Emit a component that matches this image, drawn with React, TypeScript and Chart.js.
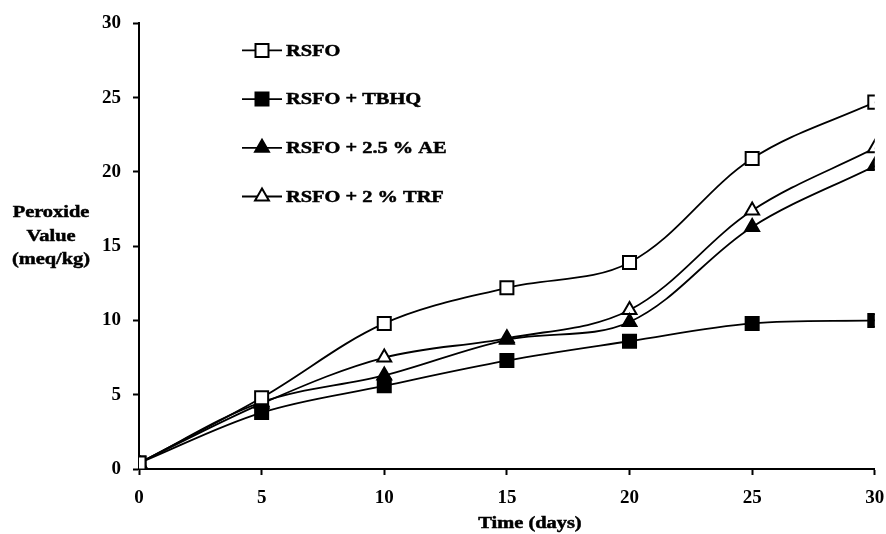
import React, { useEffect, useRef } from "react";
import { Chart, registerables } from "chart.js";

Chart.register(...registerables);

const days = [0, 5, 10, 15, 20, 25, 30];
const rsfo = [0.4, 4.8, 9.8, 12.2, 13.9, 20.9, 24.7];
const tbhq = [0.4, 3.8, 5.6, 7.3, 8.6, 9.8, 10.0];
const ae = [0.4, 4.5, 6.3, 8.7, 9.9, 16.3, 20.4];
const trf = [0.4, 4.4, 7.5, 8.8, 10.7, 17.4, 21.6];
const seriesLabels = ["RSFO", "RSFO + TBHQ", "RSFO + 2.5 % AE", "RSFO + 2 % TRF"];
const yTitleLines = ["Peroxide", "Value", "(meq/kg)"];
const xTitle = "Time (days)";

const FONT = "'Liberation Serif', 'Times New Roman', serif";
const STRETCH = 1.2;

type Marker = { shape: "rect" | "triangle"; fill: string };
const markers: Marker[] = [
  { shape: "rect", fill: "#fff" },
  { shape: "rect", fill: "#000" },
  { shape: "triangle", fill: "#000" },
  { shape: "triangle", fill: "#fff" },
];

function drawMarker(ctx: CanvasRenderingContext2D, m: Marker, x: number, y: number) {
  ctx.save();
  ctx.beginPath();
  if (m.shape === "rect") {
    const s = 6.5;
    ctx.rect(x - s, y - s, 2 * s, 2 * s);
  } else {
    const r = 8;
    ctx.moveTo(x, y - r);
    ctx.lineTo(x + r * 0.866, y + r * 0.5);
    ctx.lineTo(x - r * 0.866, y + r * 0.5);
    ctx.closePath();
  }
  ctx.fillStyle = m.fill;
  ctx.fill();
  ctx.lineWidth = 2;
  ctx.strokeStyle = "#000";
  ctx.stroke();
  ctx.restore();
}

function stretchedText(ctx: CanvasRenderingContext2D, text: string, x: number, y: number, align: "left" | "center") {
  ctx.save();
  ctx.translate(x, y);
  ctx.scale(STRETCH, 1);
  ctx.textAlign = align;
  ctx.textBaseline = "middle";
  ctx.lineWidth = 0.5;
  ctx.strokeStyle = "#000";
  ctx.strokeText(text, 0, 0);
  ctx.fillText(text, 0, 0);
  ctx.restore();
}

const customPlugin = {
  id: "custom",
  afterDraw(chart: any) {
    const ctx: CanvasRenderingContext2D = chart.ctx;
    const area = chart.chartArea;
    ctx.save();
    ctx.fillStyle = "#000";
    ctx.font = `bold 17px ${FONT}`;
    // legend
    seriesLabels.forEach((label, i) => {
      const y = area.top + 27 + i * 48.7;
      const x0 = area.left + 103;
      ctx.beginPath();
      ctx.moveTo(x0, y);
      ctx.lineTo(x0 + 40, y);
      ctx.lineWidth = 1.8;
      ctx.strokeStyle = "#000";
      ctx.stroke();
      drawMarker(ctx, markers[i], x0 + 20, y);
      ctx.fillStyle = "#000";
      stretchedText(ctx, label, x0 + 44, y + 1, "left");
    });
    // y title
    yTitleLines.forEach((line, i) => {
      stretchedText(ctx, line, 51, 213 + i * 23.5, "center");
    });
    // x title
    stretchedText(ctx, xTitle, 530, 524, "center");
    ctx.restore();
  },
};

export default function App() {
  const ref = useRef<HTMLCanvasElement>(null);
  useEffect(() => {
    if (!ref.current) return;
    const mk = (vals: number[]) => days.map((d, i) => ({ x: d, y: vals[i] }));
    const allSeries = [rsfo, tbhq, ae, trf];
    const chart = new Chart(ref.current, {
      type: "line",
      data: {
        datasets: allSeries.map((vals, i) => ({
          label: seriesLabels[i],
          data: mk(vals),
          borderColor: "#000",
          borderWidth: 1.8,
          tension: 0.35,
          pointStyle: markers[i].shape,
          pointRadius: markers[i].shape === "rect" ? 9.2 : 8,
          pointBackgroundColor: markers[i].fill,
          pointBorderColor: "#000",
          pointBorderWidth: 2,
          fill: false,
        })),
      },
      options: {
        animation: false,
        responsive: false,
        layout: { padding: { top: 16, right: 3, left: 0, bottom: 0 } },
        plugins: { legend: { display: false }, tooltip: { enabled: false } },
        scales: {
          x: {
            type: "linear",
            min: 0,
            max: 30,
            ticks: {
              stepSize: 5,
              color: "#000",
              padding: 12,
              font: { family: FONT, size: 19, weight: "bold" },
            },
            grid: { drawOnChartArea: false, drawTicks: true, tickLength: 6, tickWidth: 2, color: "#000" },
            border: { display: true, color: "#000", width: 2 },
            afterFit: (s: any) => {
              s.height = 65;
              s.paddingRight = 10;
            },
          },
          y: {
            min: 0,
            max: 30,
            ticks: {
              stepSize: 5,
              color: "#000",
              padding: 12,
              font: { family: FONT, size: 19, weight: "bold" },
            },
            grid: { drawOnChartArea: false, drawTicks: true, tickLength: 6, tickWidth: 2, color: "#000" },
            border: { display: true, color: "#000", width: 2 },
            afterFit: (s: any) => {
              s.width = 139;
            },
          },
        },
      },
      plugins: [customPlugin],
    } as any);
    return () => chart.destroy();
  }, []);
  return (
    <div style={{ position: "fixed", left: 0, top: 0, width: 886, height: 534, background: "#fff" }}>
      <canvas ref={ref} width={886} height={534} style={{ width: 886, height: 534, display: "block" }} />
    </div>
  );
}
